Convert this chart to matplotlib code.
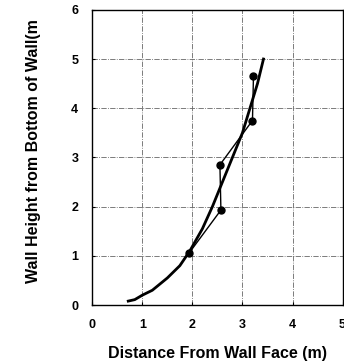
import matplotlib.pyplot as plt

# measured points
px = [1.93, 2.57, 2.55, 3.20, 3.22]
py = [1.05, 1.93, 2.85, 3.75, 4.65]

cx = [0.72, 0.85, 1.0, 1.2, 1.5, 1.75, 1.95, 2.2, 2.4, 2.6, 2.8, 3.0, 3.15, 3.3, 3.42]
cy = [0.08, 0.11, 0.2, 0.3, 0.55, 0.8, 1.1, 1.55, 2.0, 2.5, 3.0, 3.5, 4.0, 4.5, 5.0]

plt.rcParams['font.family'] = ['Liberation Sans', 'DejaVu Sans']
plt.rcParams['font.weight'] = 'bold'

fig = plt.figure(figsize=[3.44, 3.64], dpi=100)
ax = fig.add_axes([0.268, 0.162, 0.728, 0.811])

ax.plot(cx, cy, color='black', lw=2.0, zorder=3)
ax.plot(px, py, color='black', lw=1.0, marker='o', ms=5, zorder=4)

ax.set_xlim(0, 5)
ax.set_ylim(0, 6)
ax.set_xticks([0, 1, 2, 3, 4, 5])
ax.set_yticks([0, 1, 2, 3, 4, 5, 6])
ax.grid(True, color='#666666', ls='-.', lw=0.6)
ax.tick_params(labelsize=9, length=2, direction='in', pad=10)
for s in ax.spines.values():
    s.set_linewidth(1.0)

ax.set_xlabel('Distance From Wall Face (m)', fontsize=11.5, fontweight='bold', labelpad=11)
ax.set_ylabel('Wall Height from Bottom of Wall(m', fontsize=11.5, fontweight='bold')
ax.yaxis.set_label_coords(-0.205, 0.52)

fig.savefig('out.png', dpi=100)
